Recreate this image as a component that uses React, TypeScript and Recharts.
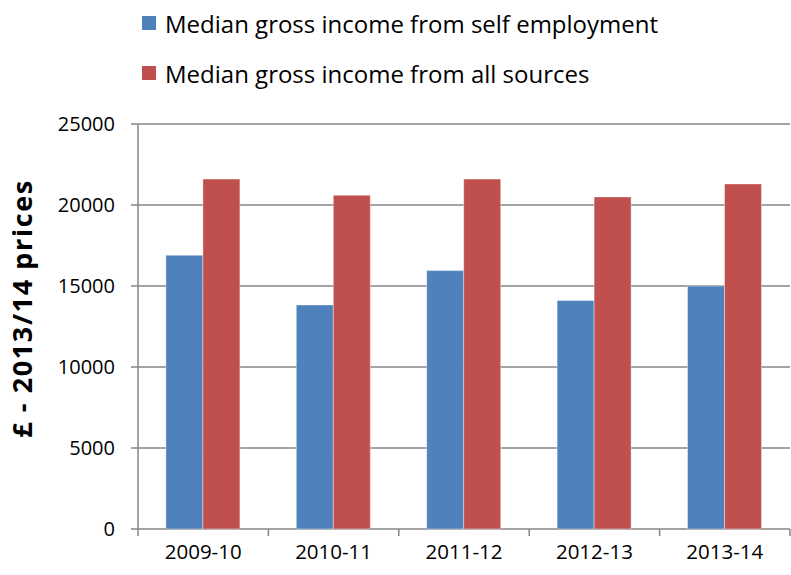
import React from 'react';
import { BarChart, Bar, XAxis, YAxis, CartesianGrid, Legend, Label } from 'recharts';

const years = ['2009-10', '2010-11', '2011-12', '2012-13', '2013-14'];
const selfEmployment = [16900, 13830, 15950, 14100, 15000];
const allSources = [21600, 20600, 21600, 20500, 21300];
const yTicks = [0, 5000, 10000, 15000, 20000, 25000];

const seriesNames = ['Median gross income from self employment', 'Median gross income from all sources'];
const seriesColors = ['#4F81BD', '#C0504D'];

const data = years.map((year, i) => ({
  year,
  self: selfEmployment[i],
  all: allSources[i],
}));

const FONT = '"Open Sans", sans-serif';
const GREY = '#868686';

const LegendBox = () => (
  <div style={{ fontFamily: FONT, fontSize: 24, color: '#000' }}>
    {seriesNames.map((name, i) => (
      <div key={name} style={{ display: 'flex', alignItems: 'center', height: 50 }}>
        <span style={{ display: 'inline-block', width: 14, height: 14, background: seriesColors[i], marginRight: 9 }} />
        {name}
      </div>
    ))}
  </div>
);

// category label plus Excel-style tick marks on the category boundaries
const YearTick = (props: any) => {
  const { x, y, payload, index } = props;
  const half = payload.offset || 0;
  const last = index === years.length - 1;
  return (
    <g>
      <line x1={x - half} x2={x - half} y1={y} y2={y + 7} stroke={GREY} strokeWidth={1.5} />
      {last && <line x1={x + half} x2={x + half} y1={y} y2={y + 7} stroke={GREY} strokeWidth={1.5} />}
      <text x={x} y={y + 15} dy="0.71em" textAnchor="middle" style={{ fontFamily: FONT, fontSize: 20.5, fill: '#000' }}>
        {payload.value}
      </text>
    </g>
  );
};

// y axis title, a little above the middle of the plot like the original
const AxisTitle = (props: any) => {
  const vb = props.viewBox;
  const cx = vb.x + 21;
  const cy = vb.y + vb.height / 2 - 18;
  return (
    <text
      x={cx}
      y={cy}
      transform={`rotate(-90, ${cx}, ${cy})`}
      textAnchor="middle"
      dominantBaseline="central"
      style={{ fontFamily: FONT, fontSize: 27, fontWeight: 'bold', fill: '#000', letterSpacing: 1.6 }}
    >
      £ - 2013/14 prices
    </text>
  );
};

export default function App() {
  return (
    <div style={{ position: 'absolute', left: 0, top: 0, background: '#fff' }}>
      <BarChart
        width={791}
        height={575}
        data={data}
        barCategoryGap="21.4%"
        barGap={0}
        margin={{ top: 24, right: 1, bottom: 0, left: 0 }}
      >
        <CartesianGrid vertical={false} stroke={GREY} strokeWidth={1.5} />
        <XAxis
          dataKey="year"
          height={46}
          axisLine={false}
          tickLine={false}
          tickSize={0}
          tickMargin={0}
          interval={0}
          tick={<YearTick />}
        />
        <YAxis
          width={138}
          domain={[0, 25000]}
          ticks={yTicks}
          interval={0}
          tickSize={7}
          tickMargin={16}
          axisLine={{ stroke: GREY, strokeWidth: 1.5 }}
          tickLine={{ stroke: GREY, strokeWidth: 1.5 }}
          tick={{ fontFamily: FONT, fontSize: 20, fill: '#000' }}
        >
          <Label content={<AxisTitle />} />
        </YAxis>
        <Legend
          verticalAlign="top"
          align="left"
          content={<LegendBox />}
          wrapperStyle={{ left: 142, top: -2, height: 100 }}
        />
        <Bar dataKey="self" name={seriesNames[0]} fill={seriesColors[0]} stroke="#ffffff" strokeOpacity={0.4} isAnimationActive={false} />
        <Bar dataKey="all" name={seriesNames[1]} fill={seriesColors[1]} stroke="#ffffff" strokeOpacity={0.4} isAnimationActive={false} />
      </BarChart>
    </div>
  );
}
